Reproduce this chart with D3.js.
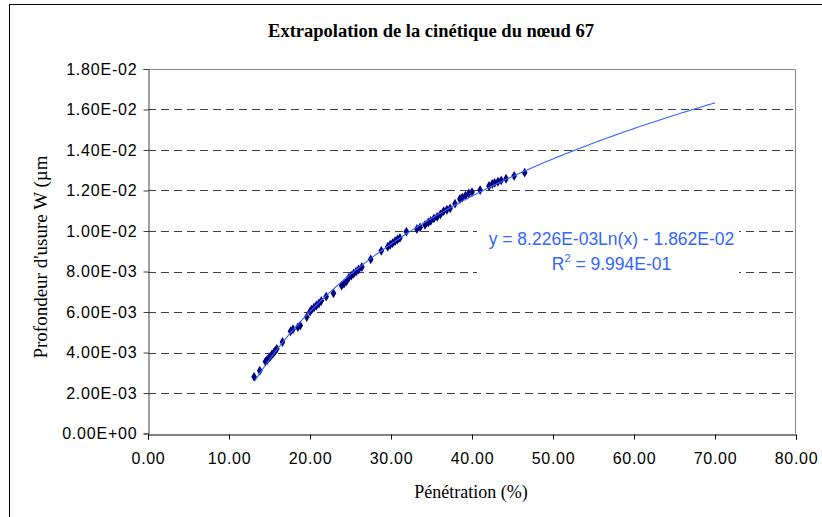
<!DOCTYPE html>
<html><head><meta charset="utf-8">
<script src="https://cdn.jsdelivr.net/npm/d3@7"></script>
<style>html,body{margin:0;padding:0;background:#fff;overflow:hidden}</style>
</head><body>
<svg id="c" width="822" height="517"></svg>
<script>
const title = "Extrapolation de la cinétique du nœud 67";
const xLabel = "Pénétration (%)";
const yLabel = "Profondeur d'usure W (µm";
const xTicks = [0,10,20,30,40,50,60,70,80];
const yTicks = [0,0.002,0.004,0.006,0.008,0.010,0.012,0.014,0.016,0.018];
const xData = [13.1,13.8,14.5,14.7,14.9,15.1,15.3,15.5,15.7,15.9,16.6,17.6,17.9,18.5,18.8,19.6,20.0,20.2,20.5,20.8,21.1,21.4,22.0,22.9,23.9,24.2,24.5,24.8,25.1,25.4,25.7,26.0,26.4,27.5,28.8,29.6,29.9,30.2,30.5,30.8,31.1,31.9,33.2,33.6,34.2,34.6,34.9,35.3,35.7,36.1,36.5,36.9,37.3,37.9,38.5,38.8,39.2,39.6,40.0,41.0,42.1,42.5,42.8,43.2,43.6,44.2,45.2,46.5];
const yData = [0.00280,0.00310,0.00355,0.00362,0.00372,0.00380,0.00390,0.00398,0.00408,0.00418,0.00452,0.00505,0.00515,0.00525,0.00533,0.00575,0.00602,0.00612,0.00622,0.00632,0.00642,0.00655,0.00676,0.00692,0.00730,0.00740,0.00752,0.00770,0.00780,0.00790,0.00800,0.00810,0.00822,0.00860,0.00902,0.00922,0.00932,0.00940,0.00950,0.00958,0.00966,0.00997,0.01010,0.01018,0.01030,0.01042,0.01050,0.01062,0.01070,0.01082,0.01098,0.01105,0.01112,0.01135,0.01158,0.01165,0.01175,0.01185,0.01192,0.01202,0.01222,0.01232,0.01238,0.01243,0.01250,0.01258,0.01272,0.01288];
// log trendline reported by the chart
const trendA = 8.226E-03, trendB = -1.862E-02;
const trendRange = [13.2, 70];
const eqText = "y = 8.226E-03Ln(x) - 1.862E-02";
const r2Text = "9.994E-01";

const svg = d3.select("#c");
const L = 148, R = 796, T = 69, B = 433.5;
const x = d3.scaleLinear().domain([0,80]).range([L,R]);
const y = d3.scaleLinear().domain([0,0.018]).range([B,T]);
const SANS = "Liberation Sans, Arial, sans-serif";
const SERIF = "Liberation Serif, Times New Roman, serif";

// outer border
svg.append("rect").attr("x",9.5).attr("y",4.5).attr("width",900).attr("height",600)
  .attr("fill","#fff").attr("stroke","#000").attr("stroke-width",1);

// gridlines
svg.append("g").selectAll("line").data(yTicks.filter(d=>d>0 && d<0.018)).join("line")
  .attr("x1",L).attr("x2",R).attr("y1",d=>Math.round(y(d))+0.5).attr("y2",d=>Math.round(y(d))+0.5)
  .attr("stroke","#404040").attr("stroke-dasharray","8,5").attr("stroke-width",1);

// plot border top/right
svg.append("path").attr("d",`M${L},${T+0.5}H${R-0.5}V${B}`).attr("fill","none").attr("stroke","#888").attr("stroke-width",1);

// axes
const yAxis = d3.axisLeft(y).tickValues(yTicks).tickSize(5).tickPadding(6)
  .tickFormat(d=>{ if(d===0) return "0.00E+00"; const e=Math.floor(Math.log10(d)+1e-9); const m=d/Math.pow(10,e); return m.toFixed(2)+"E-"+String(-e).padStart(2,"0");});
const gy = svg.append("g").attr("transform",`translate(${L+0.5},0)`).call(yAxis);
gy.select(".domain").attr("stroke","#404040");
gy.selectAll(".tick line").attr("stroke","#404040");
gy.selectAll("text").attr("font-family",SANS).attr("font-size","16px").attr("letter-spacing","0.8px").attr("fill","#000");

const xAxis = d3.axisBottom(x).tickValues(xTicks).tickSize(5).tickPadding(13).tickFormat(d=>d.toFixed(2));
const gx = svg.append("g").attr("transform",`translate(0,${Math.round(B)+0.5})`).call(xAxis);
gx.select(".domain").attr("stroke","#000");
gx.selectAll(".tick line").attr("stroke","#000");
gx.selectAll("text").attr("font-family",SANS).attr("font-size","16px").attr("letter-spacing","0.7px").attr("fill","#000");

// data markers
const pts = xData.map((d,i)=>[d,yData[i]]);
const diamond = d3.symbol().type(d3.symbolDiamond).size(28);
svg.append("g").selectAll("path").data(pts).join("path")
  .attr("transform",d=>`translate(${x(d[0])},${y(d[1])})`).attr("d",diamond).attr("fill","#000080");

// trendline
const tr = d3.range(0,201).map(i=>trendRange[0]+(trendRange[1]-trendRange[0])*i/200);
svg.append("path").datum(tr).attr("fill","none").attr("stroke","#3366ff").attr("stroke-width",1.1)
  .attr("d",d3.line().x(d=>x(d)).y(d=>y(trendA*Math.log(d)+trendB)));

// equation label
svg.append("rect").attr("x",477).attr("y",224).attr("width",262).attr("height",53).attr("fill","#fff");
const eqg = svg.append("g").attr("font-family",SANS).attr("font-size","17.5px").attr("fill","#3366ff").attr("text-anchor","middle");
eqg.append("text").attr("x",611.5).attr("y",245).text(eqText);
const r2 = eqg.append("text").attr("x",611.5).attr("y",270);
r2.append("tspan").text("R");
r2.append("tspan").attr("dy",-8).attr("font-size","11px").text("2");
r2.append("tspan").attr("dy",8).text(" = "+r2Text);

// titles
svg.append("text").attr("x",431).attr("y",37).attr("text-anchor","middle")
  .attr("font-family",SERIF).attr("font-weight","bold").attr("font-size","18.5px").text(title);
svg.append("text").attr("x",471).attr("y",498).attr("text-anchor","middle")
  .attr("font-family",SERIF).attr("font-size","18px").text(xLabel);
svg.append("text").attr("transform","translate(47,257) rotate(-90)").attr("text-anchor","middle")
  .attr("font-family",SERIF).attr("font-size","19px").text(yLabel);
</script>
</body></html>
